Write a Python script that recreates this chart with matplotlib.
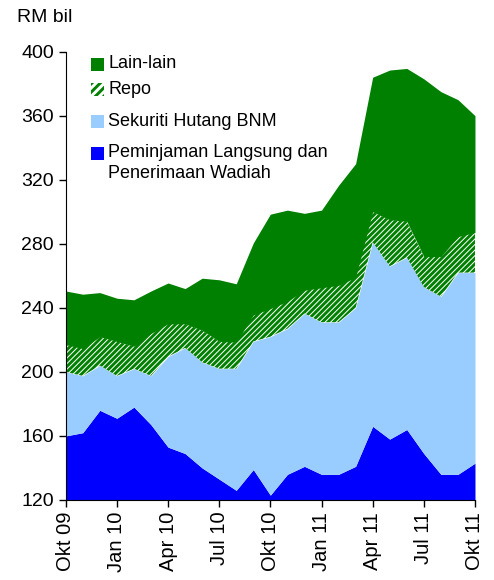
import numpy as np
import matplotlib.pyplot as plt
from matplotlib.patches import Rectangle

plt.rcParams['font.family'] = ['Liberation Sans', 'DejaVu Sans']
plt.rcParams['hatch.linewidth'] = 2.1

# monthly, Okt 09 .. Okt 11 (RM bil)
months = ['Okt 09', 'Nov 09', 'Dis 09', 'Jan 10', 'Feb 10', 'Mac 10', 'Apr 10', 'Mei 10',
          'Jun 10', 'Jul 10', 'Ogo 10', 'Sep 10', 'Okt 10', 'Nov 10', 'Dis 10', 'Jan 11',
          'Feb 11', 'Mac 11', 'Apr 11', 'Mei 11', 'Jun 11', 'Jul 11', 'Ogo 11', 'Sep 11', 'Okt 11']
tick_labels = ['Okt 09', 'Jan 10', 'Apr 10', 'Jul 10', 'Okt 10', 'Jan 11', 'Apr 11', 'Jul 11', 'Okt 11']

peminjaman = [160, 162, 176, 171, 178, 167, 153, 149, 140, 133, 126, 139, 123,
              136, 141, 136, 136, 141, 166, 158, 164, 149, 136, 136, 143]
sekuriti = [40, 35.5, 28, 26.5, 24, 30.5, 56.5, 66, 66, 69, 76, 80, 99,
            91, 95.5, 95, 95, 99, 115, 108, 107.5, 104, 111, 126, 119]
repo = [17, 17, 18, 21.5, 14, 26.5, 20.5, 15, 20, 17, 16.5, 16.5, 17.5,
        17, 14.5, 21.5, 23, 19, 19, 29, 22.5, 19, 25, 22.5, 25]
lain_lain = [33.5, 34, 27.5, 27, 29, 26.5, 25.5, 22, 32.5, 38.5, 36.5, 45, 59,
             57, 48, 48.5, 62.5, 71, 84, 93.5, 95.5, 111, 103, 85.5, 73]

green = '#008000'
x = np.arange(len(months))
b1 = np.array(peminjaman, dtype=float)
b2 = b1 + np.array(sekuriti)
b3 = b2 + np.array(repo)
b4 = b3 + np.array(lain_lain)

W, H = 494, 580
fig = plt.figure(figsize=(W / 100, H / 100), dpi=100)
ax = fig.add_axes([0.133, 0.138, 0.8285, 0.773])

ax.fill_between(x, 0, b1, color='#0000ff', lw=0)
ax.fill_between(x, b1, b2, color='#99ccff', lw=0)
ax.fill_between(x, b2, b3, facecolor='white', edgecolor=green, hatch='//////', lw=0)
ax.fill_between(x, b3, b4, color=green, lw=0)

ax.set_xlim(0, 24)
ax.set_ylim(120, 400)
ax.set_yticks(np.arange(120, 401, 40))
ax.set_xticks(np.arange(0, 25, 3))
ax.set_xticklabels(tick_labels, rotation=90)
ax.tick_params(labelsize=14, length=5, width=1, direction='out')
ax.tick_params(axis='x', labelsize=14.5)
for s in ['top', 'right']:
    ax.spines[s].set_visible(False)

fig.text(17 / W, 1 - 18 / H, 'RM bil', fontsize=14, va='center', ha='left')

# legend laid out by hand (handle aligned to first text line)
legend_items = [
    ('Lain-lain', dict(facecolor=green), 64, [63.5]),
    ('Repo', dict(facecolor='white', edgecolor=green, hatch='////'), 89.5, [89]),
    ('Sekuriti Hutang BNM', dict(facecolor='#99ccff'), 121, [121]),
    ('Peminjaman Langsung dan', dict(facecolor='#0000ff'), 153, [152]),
]
for label, style, yc, ys in legend_items:
    fig.patches.append(Rectangle((91 / W, 1 - (yc + 6.5) / H), 12.5 / W, 13 / H,
                                 transform=fig.transFigure, lw=0, **style))
    fig.text(108 / W, 1 - ys[0] / H, label, fontsize=13, va='center', ha='left')
fig.text(108 / W, 1 - 173 / H, 'Penerimaan Wadiah', fontsize=13, va='center', ha='left')

fig.savefig('out.png', dpi=100)
